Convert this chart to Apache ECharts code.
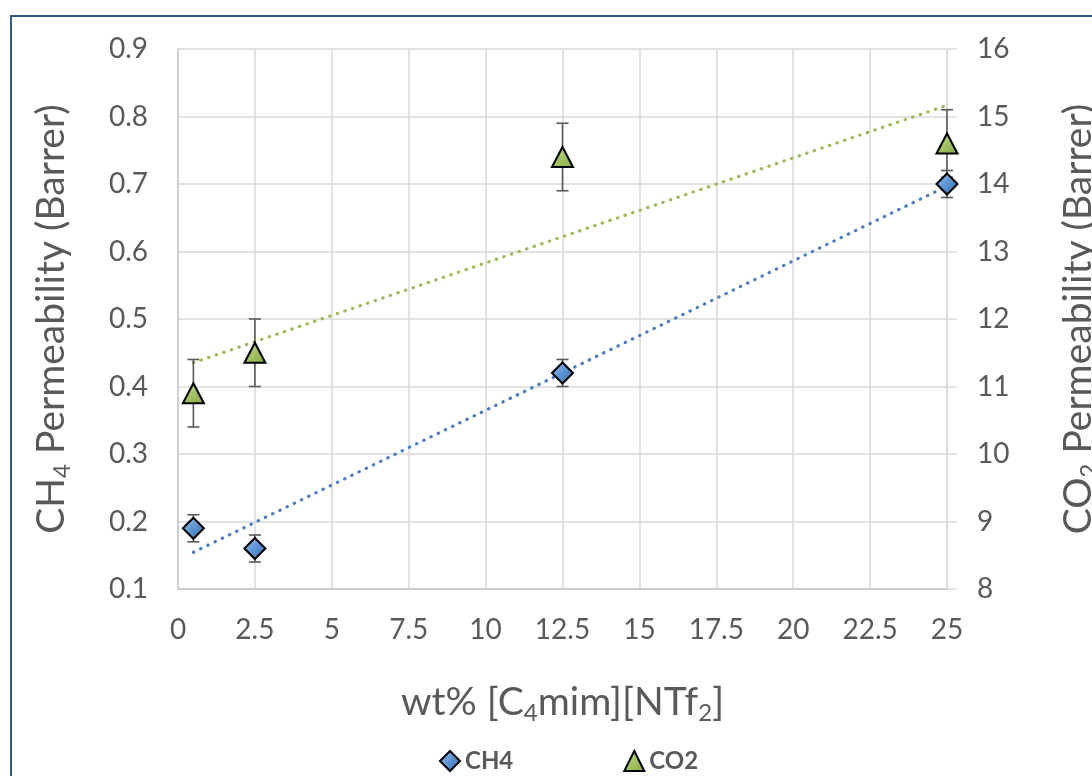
<!DOCTYPE html>
<html>
<head>
<meta charset="utf-8">
<script src="https://cdn.jsdelivr.net/npm/echarts@6/dist/echarts.min.js"></script>
<style>
  html, body { margin: 0; padding: 0; background: #ffffff; overflow: hidden; }
  #chart { width: 1092px; height: 776px; }
</style>
</head>
<body>
<div id="chart"></div>
<script>
// Ionic liquid loading (wt%) and measured permeabilities
const wtPercent = [0.5, 2.5, 12.5, 25];
const ch4Perm = [0.19, 0.16, 0.42, 0.70];
const ch4Err = [0.02, 0.02, 0.02, 0.02];
const co2Perm = [10.9, 11.5, 14.4, 14.6];
const co2Err = [0.5, 0.5, 0.5, 0.5];

// Axis ranges
const xTicks = { min: 0, max: 25, interval: 2.5 };
const ch4Ticks = { min: 0.1, max: 0.9, interval: 0.1 };
const co2Ticks = { min: 8, max: 16, interval: 1 };

const FONT = 'Lato';
const GREY = '#595959';

// Least-squares linear trend through a series
function linearFit(xs, ys) {
  const n = xs.length;
  const mx = xs.reduce((a, b) => a + b, 0) / n;
  const my = ys.reduce((a, b) => a + b, 0) / n;
  let sxy = 0, sxx = 0;
  for (let i = 0; i < n; i++) {
    sxy += (xs[i] - mx) * (ys[i] - my);
    sxx += (xs[i] - mx) * (xs[i] - mx);
  }
  const slope = sxy / sxx;
  const icpt = my - slope * mx;
  const x0 = Math.min(...xs), x1 = Math.max(...xs);
  return [[x0, icpt + slope * x0], [x1, icpt + slope * x1]];
}

function errorBars(name, ys, errs, yAxisIndex) {
  return {
    type: 'custom',
    name: name,
    yAxisIndex: yAxisIndex,
    z: 3,
    silent: true,
    data: wtPercent.map((x, i) => [x, ys[i] - errs[i], ys[i] + errs[i]]),
    encode: { x: 0, y: [1, 2] },
    renderItem: function (params, api) {
      const lo = api.coord([api.value(0), api.value(1)]);
      const hi = api.coord([api.value(0), api.value(2)]);
      const hw = 6;
      const st = { stroke: GREY, lineWidth: 1.6 };
      return {
        type: 'group',
        children: [
          { type: 'line', shape: { x1: lo[0], y1: lo[1], x2: hi[0], y2: hi[1] }, style: st },
          { type: 'line', shape: { x1: lo[0] - hw, y1: lo[1], x2: lo[0] + hw, y2: lo[1] }, style: st },
          { type: 'line', shape: { x1: hi[0] - hw, y1: hi[1], x2: hi[0] + hw, y2: hi[1] }, style: st }
        ]
      };
    }
  };
}

const blueFill = new echarts.graphic.LinearGradient(0, 0, 1, 1, [
  { offset: 0, color: '#9cc4ee' },
  { offset: 0.5, color: '#5b93d3' },
  { offset: 1, color: '#3a6eae' }
]);
const greenFill = new echarts.graphic.LinearGradient(0, 0, 1, 1, [
  { offset: 0, color: '#cfe59c' },
  { offset: 0.5, color: '#a3c463' },
  { offset: 1, color: '#86a845' }
]);

const axisNameRich = {
  t: { fontFamily: FONT, fontSize: 39, color: GREY, lineHeight: 46 },
  s: { fontFamily: FONT, fontSize: 24, color: GREY, lineHeight: 46, padding: [22, 0, 0, 0] }
};

const chart = echarts.init(document.getElementById('chart'), null, { renderer: 'canvas' });

chart.setOption({
  backgroundColor: '#ffffff',
  animation: false,
  graphic: [{
    type: 'rect',
    shape: { x: 11, y: 16, width: 1200, height: 900 },
    style: { fill: 'none', stroke: '#2e5b88', lineWidth: 2 },
    silent: true,
    z: 100
  }],
  grid: {
    left: 178, right: 145, top: 49, bottom: 187,
    containLabel: false,
    outerBoundsMode: 'none'
  },
  legend: {
    data: ['CH4', 'CO2'],
    top: 744,
    left: 434,
    itemWidth: 20,
    itemHeight: 20,
    itemGap: 110,
    textStyle: { fontFamily: FONT, fontSize: 24, fontWeight: 'bold', color: GREY }
  },
  xAxis: {
    type: 'value',
    min: xTicks.min, max: xTicks.max, interval: xTicks.interval,
    name: '{t|wt% [C}{s|4}{t|mim][NTf}{s|2}{t|]}',
    nameLocation: 'middle',
    nameGap: 90,
    nameTextStyle: { rich: axisNameRich },
    axisLine: { show: true, lineStyle: { color: '#c8c8c8', width: 1.5 } },
    axisTick: { show: false },
    axisLabel: { fontFamily: FONT, fontSize: 28, color: GREY, margin: 27 },
    splitLine: { show: true, lineStyle: { color: '#d9d9d9', width: 1.5 } }
  },
  yAxis: [{
    type: 'value',
    position: 'left',
    min: ch4Ticks.min, max: ch4Ticks.max, interval: ch4Ticks.interval,
    name: '{t|CH}{s|4}{t| Permeability (Barrer)}',
    nameLocation: 'middle',
    nameRotate: 90,
    nameGap: 104,
    nameTextStyle: { rich: axisNameRich },
    axisLine: { show: true, lineStyle: { color: '#c8c8c8', width: 1.5 } },
    axisTick: { show: false },
    axisLabel: { fontFamily: FONT, fontSize: 28, color: GREY, margin: 30,
      formatter: v => v.toFixed(1) },
    splitLine: { show: true, lineStyle: { color: '#d9d9d9', width: 1.5 } }
  }, {
    type: 'value',
    position: 'right',
    min: co2Ticks.min, max: co2Ticks.max, interval: co2Ticks.interval,
    name: '{t|CO}{s|2}{t| Permeability (Barrer)}',
    nameLocation: 'middle',
    nameRotate: 90,
    nameGap: 108,
    nameTextStyle: { rich: axisNameRich },
    axisLine: { show: true, lineStyle: { color: '#d9d9d9', width: 1.5 } },
    axisTick: { show: true, inside: false, length: 10, lineStyle: { color: '#d9d9d9', width: 1.5 } },
    axisLabel: { fontFamily: FONT, fontSize: 28, color: GREY, margin: 30 },
    splitLine: { show: false }
  }],
  series: [
    {
      name: 'CH4 trend',
      type: 'line',
      yAxisIndex: 0,
      data: linearFit(wtPercent, ch4Perm),
      showSymbol: false,
      silent: true,
      z: 2,
      lineStyle: { color: '#4a7ec4', width: 3.2, type: [0.5, 7.5], cap: 'round' }
    },
    {
      name: 'CO2 trend',
      type: 'line',
      yAxisIndex: 1,
      data: linearFit(wtPercent, co2Perm),
      showSymbol: false,
      silent: true,
      z: 2,
      lineStyle: { color: '#9bbb59', width: 3.2, type: [0.5, 7.5], cap: 'round' }
    },
    errorBars('CH4 error', ch4Perm, ch4Err, 0),
    errorBars('CO2 error', co2Perm, co2Err, 1),
    {
      name: 'CH4',
      type: 'scatter',
      yAxisIndex: 0,
      z: 5,
      symbol: 'diamond',
      symbolSize: 21,
      data: wtPercent.map((x, i) => [x, ch4Perm[i]]),
      itemStyle: { color: blueFill, borderColor: '#000000', borderWidth: 2, opacity: 1 }
    },
    {
      name: 'CO2',
      type: 'scatter',
      yAxisIndex: 1,
      z: 5,
      symbol: 'triangle',
      symbolSize: [21, 20],
      data: wtPercent.map((x, i) => [x, co2Perm[i]]),
      itemStyle: { color: greenFill, borderColor: '#000000', borderWidth: 2, opacity: 1 }
    }
  ]
});
</script>
</body>
</html>
